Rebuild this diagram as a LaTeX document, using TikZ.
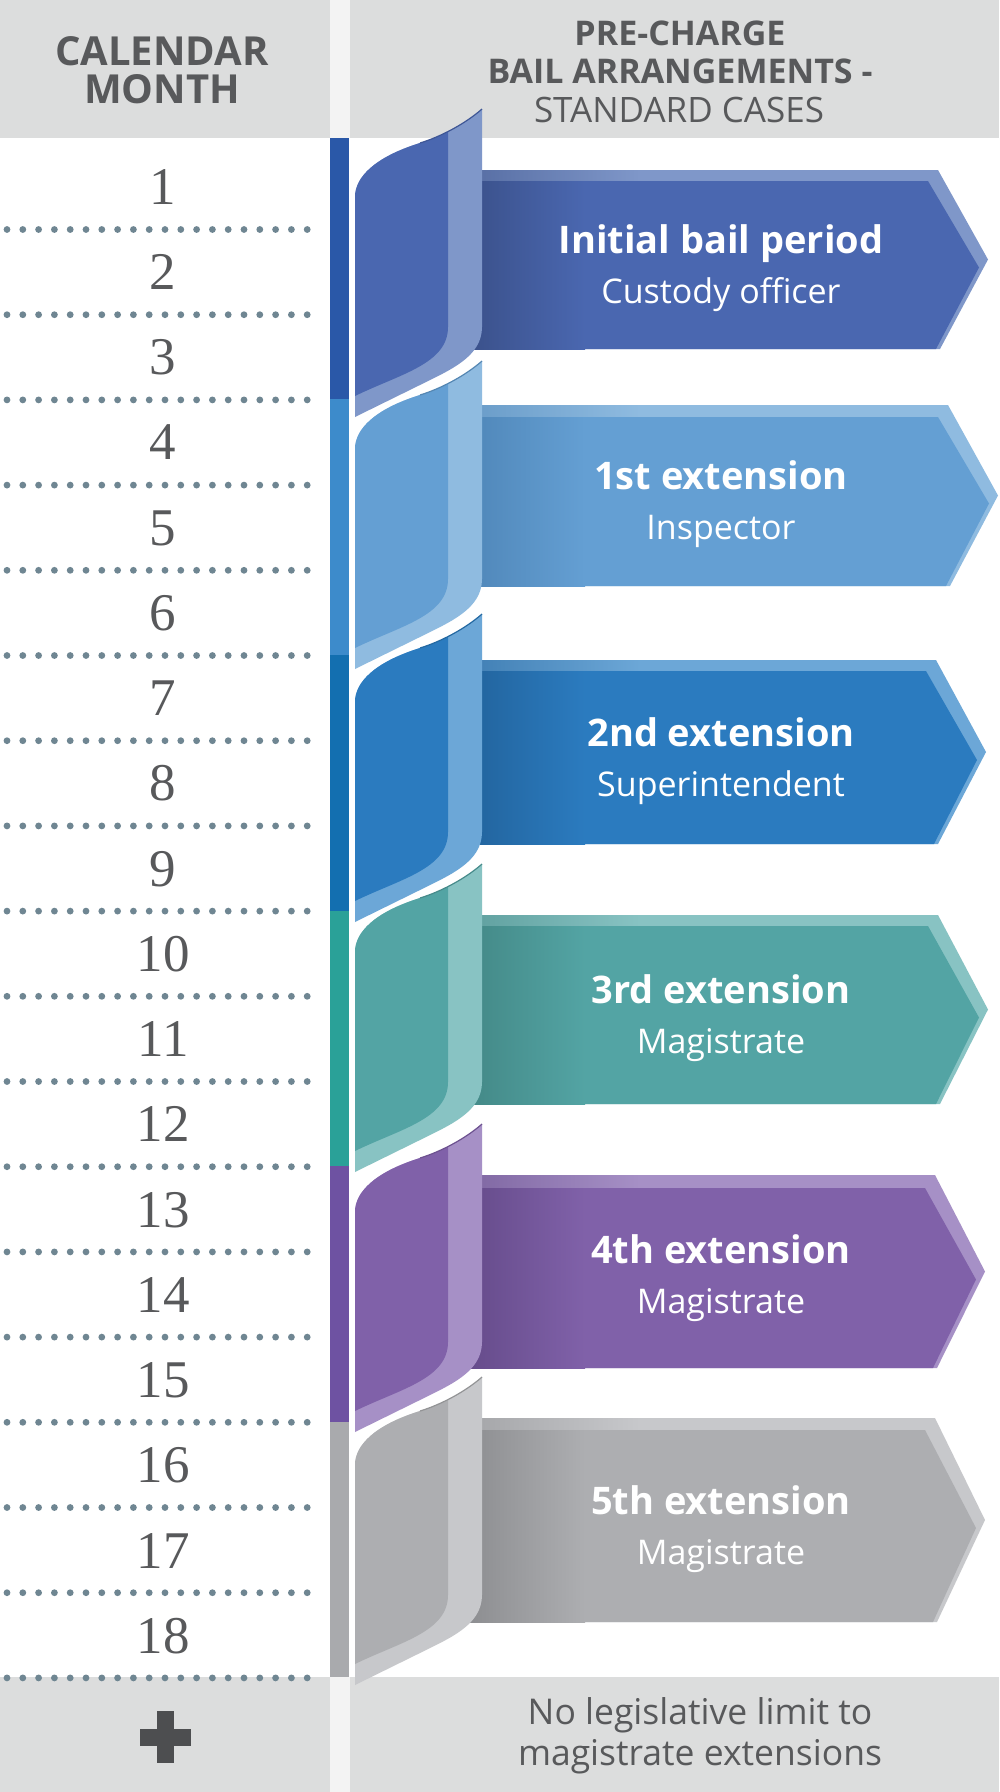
\documentclass[tikz,border=0pt]{standalone}
\usepackage{fontspec}
\setmainfont{Open Sans}
\newfontfamily\numfont{Liberation Serif}
\definecolor{hdrgray}{HTML}{DCDDDD}
\definecolor{seam}{HTML}{F3F3F3}
\definecolor{txtgray}{HTML}{58595B}
\definecolor{dotc}{HTML}{6F8692}
\definecolor{plusc}{HTML}{4D4E50}
% segment colours
\definecolor{barA}{HTML}{2A58A8}\definecolor{mainA}{HTML}{4A67B0}\definecolor{stripA}{HTML}{7F97C9}\definecolor{darkA}{HTML}{3A5089}
\definecolor{barB}{HTML}{3D8BCB}\definecolor{mainB}{HTML}{649FD3}\definecolor{stripB}{HTML}{8FBBE0}\definecolor{darkB}{HTML}{4F86B8}
\definecolor{barC}{HTML}{136FB0}\definecolor{mainC}{HTML}{2B7BBF}\definecolor{stripC}{HTML}{6CA7D7}\definecolor{darkC}{HTML}{22639C}
\definecolor{barD}{HTML}{2AA198}\definecolor{mainD}{HTML}{53A4A4}\definecolor{stripD}{HTML}{88C3C3}\definecolor{darkD}{HTML}{438886}
\definecolor{barE}{HTML}{6E52A2}\definecolor{mainE}{HTML}{8061A9}\definecolor{stripE}{HTML}{A690C6}\definecolor{darkE}{HTML}{654B8A}
\definecolor{barF}{HTML}{A9AAAD}\definecolor{mainF}{HTML}{ADAEB1}\definecolor{stripF}{HTML}{C7C8CB}\definecolor{darkF}{HTML}{8C8D90}
\tikzset{
  hdrbold/.style={text=txtgray, inner sep=0pt, anchor=base, font=\bfseries\fontsize{34}{40}\selectfont},
  hdrreg/.style={text=txtgray, inner sep=0pt, anchor=base, font=\fontsize{35}{40}\selectfont},
  calhdr/.style={text=txtgray, inner sep=0pt, anchor=base, font=\bfseries\fontsize{40}{48}\selectfont},
  numtxt/.style={text=txtgray, inner sep=0pt, anchor=base, font=\numfont\fontsize{53}{60}\selectfont},
  ttl/.style={text=white, inner sep=0pt, anchor=base, font=\bfseries\fontsize{38}{44}\selectfont},
  subt/.style={text=white, inner sep=0pt, anchor=base, font=\fontsize{34}{40}\selectfont},
  foot/.style={text=txtgray, inner sep=0pt, anchor=base, font=\fontsize{35.5}{42}\selectfont},
}
% ribbon curl: #1 = y of front top-right corner, #2 front colour, #3 strip colour
\newcommand\ribboncurl[3]{%
\begin{scope}[shift={(0,#1)}]
 \fill[#3] (355,65) .. controls (355,45) and (375,25) .. (420,11) .. controls (440,5) and (465,-8) .. (482,-23)
   -- (482,195) .. controls (482,225) and (450,238) .. (420,253) -- (355,285) -- cycle;
 \begin{scope}
  \clip (355,65) .. controls (355,45) and (375,25) .. (420,11) .. controls (440,5) and (465,-8) .. (482,-23)
   -- (482,195) .. controls (482,225) and (450,238) .. (420,253) -- (355,285) -- cycle;
  \fill[#2] (340,-40) -- (448,-40) -- (448,195) .. controls (448,232) and (400,242) .. (355,264) -- (340,264) -- cycle;
 \end{scope}
 \draw[#2!85!black, line width=1.2pt] (420,11) .. controls (440,5) and (465,-8) .. (482,-23);
\end{scope}}
% banner arrow: #1 strip top, #2 body top, #3 bottom, #4 tip x, #5 main, #6 strip, #7 dark
\newcommand\bannerarrow[7]{%
 \pgfmathsetmacro\tY{(#1+#3)/2}
 \fill[#6] (465,#1) -- ({#4-50},#1) -- (#4,\tY) -- ({#4-48},#3) -- (465,#3) -- cycle;
 \shade[left color=#7!60!#6, right color=#6] (465,#1) rectangle (640,#2);
 \fill[#5] (465,#2) -- ({#4-60},#2) -- ({#4-9},{\tY+8}) -- ({#4-52},#3) -- (465,#3) -- cycle;
 \shade[left color=#7, right color=#5] (465,#2) rectangle (585,#3);
}
\begin{document}
\begin{tikzpicture}[x=1pt,y=-1pt]
\useasboundingbox (0,0) rectangle (1000,1792);
\fill[white] (0,0) rectangle (1000,1792);
% header
\fill[hdrgray] (0,0) rectangle (330,138);
\fill[seam] (330,0) rectangle (350,138);
\fill[hdrgray] (350,0) rectangle (999,138);
% footer
\fill[hdrgray] (0,1677) rectangle (330,1792);
\fill[seam] (330,1677) rectangle (350,1792);
\fill[hdrgray] (350,1677) rectangle (999,1792);
% colour bar
\fill[barA] (330,138) rectangle (349,399);
\fill[barB] (330,399) rectangle (349,655);
\fill[barC] (330,655) rectangle (349,911);
\fill[barD] (330,911) rectangle (349,1166);
\fill[barE] (330,1166) rectangle (349,1422);
\fill[barF] (330,1422) rectangle (349,1677);
% dotted separators
\foreach \k in {0,...,17} {
  \foreach \j in {0,...,19} {
    \fill[dotc] ({7+15.8*\j},{229.5+85.2*\k}) circle (3.4);
  }
}
% month numbers
\foreach \k in {1,...,18} {
  \node[numtxt] (m\k) at (163,{204+(\k-1)*85.25}) {\k};
}
% header texts
\node[calhdr] (hc1) at (162,65) {CALENDAR};
\node[calhdr] (hc2) at (162,103) {MONTH};
\node[hdrbold] (hb1) at (680,45) {PRE-CHARGE};
\node[hdrbold] (hb2) at (680,83) {BAIL ARRANGEMENTS -};
\node[hdrreg] (hb3) at (679,122) {STANDARD CASES};
% banners
\bannerarrow{170}{181}{349}{988}{mainA}{stripA}{darkA}
\bannerarrow{405}{417}{586}{998}{mainB}{stripB}{darkB}
\bannerarrow{660}{671}{844}{986}{mainC}{stripC}{darkC}
\bannerarrow{915}{926}{1104}{988}{mainD}{stripD}{darkD}
\bannerarrow{1175}{1188}{1368}{985}{mainE}{stripE}{darkE}
\bannerarrow{1418}{1430}{1622}{985}{mainF}{stripF}{darkF}
% ribbons
\ribboncurl{132}{mainA}{stripA}
\ribboncurl{384}{mainB}{stripB}
\ribboncurl{637}{mainC}{stripC}
\ribboncurl{887}{mainD}{stripD}
\ribboncurl{1147}{mainE}{stripE}
\ribboncurl{1400}{mainF}{stripF}
% banner texts
\node[ttl] (t0) at (721,{259.5-6}) {Initial bail period};
\node[subt] (s0) at (721,{259.5+44}) {Custody officer};
\node[ttl] (t1) at (721,{495.5-6}) {1st extension};
\node[subt] (s1) at (721,{495.5+44}) {Inspector};
\node[ttl] (t2) at (721,{752-6}) {2nd extension};
\node[subt] (s2) at (721,{752+44}) {Superintendent};
\node[ttl] (t3) at (721,{1009.5-6}) {3rd extension};
\node[subt] (s3) at (721,{1009.5+44}) {Magistrate};
\node[ttl] (t4) at (721,{1271.5-8}) {4th extension};
\node[subt] (s4) at (721,{1271.5+42}) {Magistrate};
\node[ttl] (t5) at (721,{1520-6}) {5th extension};
\node[subt] (s5) at (721,{1520+44}) {Magistrate};
% footer
\fill[plusc] (156.5,1711) rectangle (173.5,1763);
\fill[plusc] (139.5,1728.5) rectangle (190.5,1745.5);
\node[foot] (f1) at (700,1724) {No legislative limit to};
\node[foot] (f2) at (700,1765) {magistrate extensions};
\end{tikzpicture}
\end{document}
